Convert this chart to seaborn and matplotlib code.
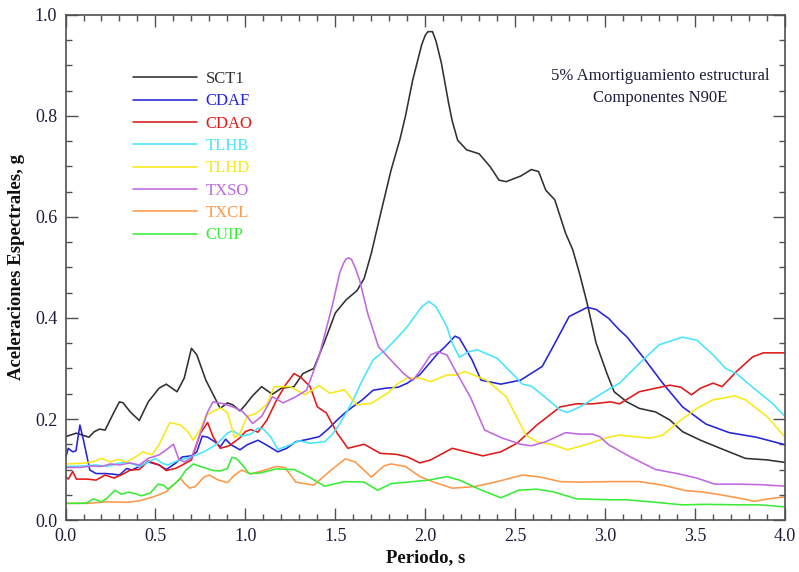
import matplotlib
matplotlib.use("Agg")
import matplotlib.pyplot as plt
from matplotlib.ticker import MultipleLocator, FormatStrFormatter
import seaborn as sns
import pandas as pd

# Spectral acceleration (g) versus period (s), 5% damping, N90E components
sct1_t = [0.0, 0.06, 0.13, 0.16, 0.19, 0.22, 0.27, 0.30, 0.32, 0.36, 0.41, 0.46, 0.52, 0.56, 0.62,
          0.66, 0.70, 0.73, 0.78, 0.86, 0.90, 0.93, 0.97, 1.0, 1.04, 1.09, 1.15, 1.20, 1.27, 1.32,
          1.38, 1.44, 1.50, 1.56, 1.62, 1.66, 1.70, 1.75, 1.81, 1.86, 1.89, 1.93, 1.98, 2.0, 2.015,
          2.04, 2.06, 2.09, 2.13, 2.15, 2.18, 2.23, 2.30, 2.36, 2.41, 2.45, 2.53, 2.59, 2.63, 2.67,
          2.72, 2.78, 2.82, 2.86, 2.90, 2.95, 3.01, 3.05, 3.12, 3.19, 3.28, 3.36, 3.43, 3.53, 3.64,
          3.78, 3.90, 4.0]
sct1_a = [0.165, 0.172, 0.164, 0.175, 0.180, 0.178, 0.214, 0.234, 0.232, 0.214, 0.197, 0.234, 0.261,
          0.269, 0.254, 0.281, 0.340, 0.327, 0.277, 0.221, 0.232, 0.228, 0.216, 0.228, 0.246, 0.264,
          0.249, 0.261, 0.264, 0.290, 0.300, 0.353, 0.410, 0.436, 0.454, 0.478, 0.528, 0.604, 0.693,
          0.755, 0.800, 0.871, 0.941, 0.960, 0.967, 0.967, 0.948, 0.904, 0.825, 0.790, 0.752, 0.733,
          0.725, 0.700, 0.673, 0.670, 0.681, 0.694, 0.690, 0.653, 0.634, 0.568, 0.535, 0.485, 0.429,
          0.350, 0.290, 0.254, 0.234, 0.221, 0.214, 0.198, 0.175, 0.158, 0.142, 0.122, 0.119, 0.114]

cdaf_t = [0.0, 0.015, 0.04, 0.058, 0.08, 0.10, 0.135, 0.17, 0.22, 0.26, 0.30, 0.34, 0.37, 0.41, 0.46,
          0.52, 0.56, 0.61, 0.65, 0.70, 0.73, 0.76, 0.79, 0.83, 0.86, 0.89, 0.92, 0.97, 1.01, 1.07,
          1.12, 1.18, 1.23, 1.28, 1.35, 1.41, 1.46, 1.51, 1.56, 1.60, 1.65, 1.71, 1.78, 1.85, 1.90,
          1.97, 2.03, 2.07, 2.11, 2.165, 2.19, 2.26, 2.31, 2.42, 2.53, 2.65, 2.71, 2.80, 2.90, 2.95,
          3.02, 3.08, 3.12, 3.21, 3.32, 3.43, 3.56, 3.69, 3.84, 4.0]
cdaf_a = [0.122, 0.142, 0.135, 0.137, 0.188, 0.158, 0.099, 0.092, 0.092, 0.091, 0.089, 0.102, 0.099,
          0.106, 0.115, 0.109, 0.100, 0.112, 0.125, 0.127, 0.135, 0.166, 0.164, 0.155, 0.145, 0.160,
          0.149, 0.139, 0.149, 0.158, 0.148, 0.135, 0.142, 0.155, 0.160, 0.165, 0.180, 0.198, 0.214,
          0.225, 0.238, 0.257, 0.261, 0.263, 0.271, 0.288, 0.313, 0.330, 0.343, 0.364, 0.360, 0.317,
          0.277, 0.269, 0.277, 0.304, 0.343, 0.403, 0.421, 0.417, 0.399, 0.376, 0.363, 0.323, 0.271,
          0.224, 0.190, 0.173, 0.164, 0.149]

cdao_t = [0.0, 0.015, 0.04, 0.06, 0.12, 0.17, 0.22, 0.27, 0.32, 0.36, 0.41, 0.46, 0.52, 0.56, 0.61,
          0.65, 0.70, 0.75, 0.79, 0.82, 0.86, 0.91, 0.97, 1.0, 1.03, 1.07, 1.12, 1.17, 1.22, 1.27,
          1.31, 1.36, 1.40, 1.45, 1.51, 1.57, 1.66, 1.75, 1.84, 1.90, 1.97, 2.03, 2.15, 2.32, 2.42,
          2.51, 2.62, 2.75, 2.84, 2.93, 3.03, 3.08, 3.19, 3.36, 3.42, 3.48, 3.53, 3.60, 3.65, 3.73,
          3.82, 3.88, 4.0]
cdao_a = [0.086, 0.081, 0.096, 0.081, 0.081, 0.079, 0.089, 0.083, 0.091, 0.099, 0.100, 0.117, 0.109,
          0.098, 0.102, 0.109, 0.119, 0.172, 0.193, 0.165, 0.142, 0.147, 0.163, 0.175, 0.179, 0.174,
          0.198, 0.235, 0.266, 0.290, 0.282, 0.264, 0.224, 0.212, 0.172, 0.142, 0.150, 0.132, 0.130,
          0.125, 0.113, 0.119, 0.142, 0.127, 0.135, 0.152, 0.188, 0.224, 0.230, 0.230, 0.234, 0.230,
          0.254, 0.267, 0.263, 0.248, 0.261, 0.271, 0.264, 0.294, 0.323, 0.331, 0.331]

tlhb_t = [0.0, 0.10, 0.17, 0.23, 0.29, 0.34, 0.41, 0.46, 0.50, 0.54, 0.57, 0.62, 0.67, 0.73, 0.78,
          0.84, 0.90, 0.93, 0.98, 1.03, 1.07, 1.10, 1.14, 1.18, 1.23, 1.30, 1.36, 1.44, 1.48, 1.52,
          1.56, 1.60, 1.65, 1.71, 1.78, 1.85, 1.90, 1.98, 2.02, 2.06, 2.12, 2.15, 2.19, 2.24, 2.29,
          2.40, 2.50, 2.54, 2.59, 2.65, 2.75, 2.79, 2.86, 2.97, 3.03, 3.08, 3.19, 3.30, 3.43, 3.51,
          3.60, 3.67, 3.73, 3.84, 3.93, 4.0]
tlhb_a = [0.106, 0.107, 0.109, 0.106, 0.112, 0.115, 0.106, 0.115, 0.122, 0.112, 0.109, 0.117, 0.122,
          0.129, 0.137, 0.150, 0.172, 0.177, 0.166, 0.170, 0.182, 0.180, 0.165, 0.140, 0.146, 0.157,
          0.152, 0.155, 0.168, 0.188, 0.212, 0.238, 0.277, 0.317, 0.337, 0.363, 0.383, 0.422, 0.433,
          0.422, 0.383, 0.350, 0.322, 0.333, 0.337, 0.320, 0.284, 0.269, 0.265, 0.248, 0.218, 0.213,
          0.224, 0.248, 0.261, 0.271, 0.310, 0.347, 0.362, 0.356, 0.327, 0.300, 0.290, 0.257, 0.231,
          0.205]

tlhd_t = [0.0, 0.08, 0.15, 0.20, 0.25, 0.29, 0.34, 0.39, 0.43, 0.48, 0.52, 0.58, 0.64, 0.68, 0.71,
          0.75, 0.78, 0.82, 0.86, 0.90, 0.94, 0.97, 1.01, 1.06, 1.12, 1.16, 1.25, 1.33, 1.41, 1.47,
          1.55, 1.62, 1.70, 1.79, 1.85, 1.90, 1.97, 2.03, 2.12, 2.17, 2.22, 2.34, 2.45, 2.56, 2.62,
          2.71, 2.79, 2.90, 3.02, 3.08, 3.25, 3.32, 3.41, 3.51, 3.60, 3.65, 3.72, 3.78, 3.90, 4.0]
tlhd_a = [0.111, 0.112, 0.115, 0.122, 0.115, 0.120, 0.115, 0.125, 0.135, 0.129, 0.149, 0.193, 0.188,
          0.175, 0.158, 0.180, 0.207, 0.215, 0.222, 0.213, 0.163, 0.172, 0.205, 0.211, 0.229, 0.264,
          0.264, 0.248, 0.266, 0.251, 0.258, 0.228, 0.231, 0.251, 0.271, 0.281, 0.281, 0.274, 0.287,
          0.287, 0.294, 0.277, 0.244, 0.168, 0.155, 0.149, 0.139, 0.150, 0.164, 0.168, 0.162, 0.168,
          0.195, 0.221, 0.238, 0.241, 0.246, 0.238, 0.205, 0.164]

txso_t = [0.0, 0.08, 0.15, 0.20, 0.25, 0.30, 0.36, 0.41, 0.46, 0.52, 0.56, 0.60, 0.63, 0.66, 0.70,
          0.75, 0.79, 0.82, 0.88, 0.93, 0.98, 1.01, 1.04, 1.09, 1.15, 1.21, 1.28, 1.34, 1.41, 1.48,
          1.525, 1.545, 1.56, 1.575, 1.59, 1.61, 1.635, 1.68, 1.74, 1.80, 1.88, 1.93, 1.98, 2.03,
          2.07, 2.12, 2.17, 2.25, 2.33, 2.43, 2.53, 2.59, 2.67, 2.78, 2.86, 2.93, 2.97, 3.02, 3.14,
          3.28, 3.40, 3.51, 3.61, 3.75, 3.86, 4.0]
txso_a = [0.104, 0.104, 0.107, 0.106, 0.111, 0.109, 0.113, 0.109, 0.122, 0.129, 0.139, 0.150, 0.120,
          0.115, 0.123, 0.172, 0.214, 0.234, 0.230, 0.224, 0.216, 0.205, 0.191, 0.205, 0.244, 0.232,
          0.244, 0.257, 0.325, 0.420, 0.490, 0.508, 0.517, 0.519, 0.516, 0.500, 0.475, 0.409, 0.343,
          0.320, 0.290, 0.276, 0.300, 0.327, 0.333, 0.327, 0.294, 0.244, 0.178, 0.162, 0.150, 0.147,
          0.155, 0.173, 0.170, 0.170, 0.165, 0.149, 0.125, 0.100, 0.092, 0.083, 0.071, 0.071, 0.070,
          0.067]

txcl_t = [0.0, 0.12, 0.23, 0.34, 0.41, 0.49, 0.56, 0.62, 0.64, 0.66, 0.69, 0.72, 0.77, 0.80, 0.85,
          0.90, 0.94, 0.98, 1.03, 1.10, 1.17, 1.22, 1.28, 1.38, 1.47, 1.555, 1.61, 1.70, 1.77, 1.81,
          1.89, 1.97, 2.04, 2.15, 2.27, 2.40, 2.54, 2.64, 2.75, 2.86, 3.02, 3.19, 3.32, 3.45, 3.53,
          3.64, 3.75, 3.83, 3.91, 4.0]
txcl_a = [0.033, 0.033, 0.036, 0.035, 0.038, 0.046, 0.056, 0.076, 0.083, 0.073, 0.063, 0.066, 0.085,
          0.089, 0.079, 0.074, 0.089, 0.099, 0.091, 0.098, 0.106, 0.104, 0.075, 0.069, 0.097, 0.121,
          0.115, 0.085, 0.107, 0.111, 0.106, 0.086, 0.076, 0.063, 0.066, 0.076, 0.089, 0.085, 0.076,
          0.075, 0.076, 0.076, 0.069, 0.058, 0.056, 0.050, 0.043, 0.037, 0.042, 0.046]

cuip_t = [0.0, 0.08, 0.12, 0.155, 0.20, 0.23, 0.275, 0.31, 0.35, 0.38, 0.42, 0.47, 0.515, 0.545, 0.57,
          0.63, 0.67, 0.71, 0.75, 0.82, 0.86, 0.90, 0.925, 0.95, 0.99, 1.02, 1.08, 1.17, 1.27, 1.34,
          1.44, 1.55, 1.66, 1.735, 1.81, 1.93, 2.02, 2.12, 2.19, 2.30, 2.42, 2.52, 2.62, 2.71, 2.84,
          2.93, 3.03, 3.12, 3.25, 3.43, 3.56, 3.75, 3.86, 4.0]
cuip_a = [0.033, 0.033, 0.034, 0.042, 0.036, 0.043, 0.059, 0.051, 0.055, 0.053, 0.048, 0.053, 0.071,
          0.069, 0.061, 0.079, 0.099, 0.111, 0.106, 0.098, 0.097, 0.102, 0.124, 0.122, 0.106, 0.092,
          0.093, 0.101, 0.100, 0.088, 0.067, 0.076, 0.075, 0.059, 0.072, 0.076, 0.079, 0.086, 0.079,
          0.061, 0.044, 0.059, 0.061, 0.056, 0.042, 0.041, 0.040, 0.040, 0.036, 0.030, 0.031, 0.030,
          0.030, 0.026]

stations = ["SCT1", "CDAF", "CDAO", "TLHB", "TLHD", "TXSO", "TXCL", "CUIP"]
periods = [sct1_t, cdaf_t, cdao_t, tlhb_t, tlhd_t, txso_t, txcl_t, cuip_t]
accels = [sct1_a, cdaf_a, cdao_a, tlhb_a, tlhd_a, txso_a, txcl_a, cuip_a]
colors = ["#303030", "#2424d8", "#e01818", "#48e4ff", "#f8e818", "#c068e0", "#ff9848", "#38ec38"]

frames = []
for name, t, a in zip(stations, periods, accels):
    frames.append(pd.DataFrame({"Periodo": t, "Sa": a, "Estacion": name}))
df = pd.concat(frames, ignore_index=True)

sns.set_style("ticks")
plt.rcParams["font.family"] = ["Liberation Serif", "DejaVu Serif"]

fig = plt.figure(figsize=(7.99, 5.72), dpi=100)
ax = fig.add_axes([0.082, 0.0909, 0.9005, 0.8829])

sns.lineplot(data=df, x="Periodo", y="Sa", hue="Estacion", hue_order=stations,
             palette=dict(zip(stations, colors)), estimator=None, sort=False,
             linewidth=1.15, ax=ax)

ax.set_xlim(0, 4.0)
ax.set_ylim(0, 1.0)
ax.xaxis.set_major_locator(MultipleLocator(0.5))
ax.xaxis.set_minor_locator(MultipleLocator(0.1))
ax.yaxis.set_major_locator(MultipleLocator(0.2))
ax.yaxis.set_minor_locator(MultipleLocator(0.05))
ax.xaxis.set_major_formatter(FormatStrFormatter("%.1f"))
ax.yaxis.set_major_formatter(FormatStrFormatter("%.1f"))

tick_color = "#1c1c3c"
ax.tick_params(which="both", direction="in", top=True, right=True, color="#505050",
               width=1.0, labelsize=13, labelcolor=tick_color, pad=6)
ax.tick_params(which="major", length=8.5)
ax.tick_params(which="minor", length=4.5)
for sp in ax.spines.values():
    sp.set_color("#505050")
    sp.set_linewidth(1.2)

ax.set_xlabel("Periodo, s", fontsize=13.5, fontweight="bold", color="#101010", labelpad=3)
ax.set_ylabel("Aceleraciones Espectrales, g", fontsize=13.5, fontweight="bold",
              color="#101010", labelpad=7)

handles, labels = ax.get_legend_handles_labels()
ax.legend(handles, labels, loc="upper left", bbox_to_anchor=(0.094, 0.889),
          frameon=False, fontsize=12, handlelength=3.85, handletextpad=0.5,
          labelspacing=0.38, borderpad=0, borderaxespad=0, labelcolor="linecolor")

ax.text(0.826, 0.879, "5% Amortiguamiento estructural", transform=ax.transAxes,
        ha="center", va="center", fontsize=12, color="#1c1c3c")
ax.text(0.826, 0.836, "Componentes N90E", transform=ax.transAxes,
        ha="center", va="center", fontsize=12, color="#1c1c3c")

fig.savefig("out.png", dpi=100)
